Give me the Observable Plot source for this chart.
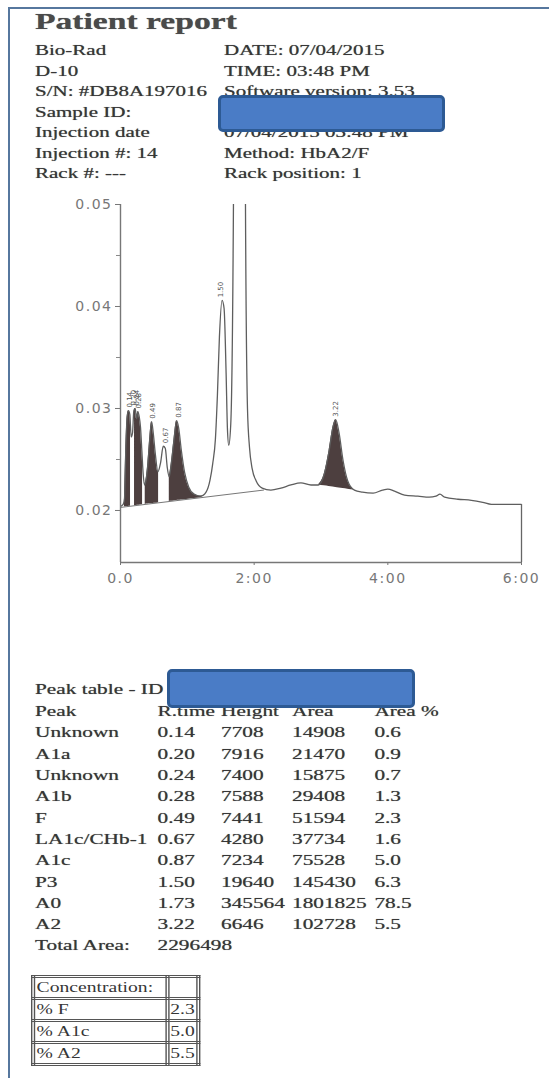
<!DOCTYPE html>
<html><head><meta charset="utf-8">
<script src="https://cdn.jsdelivr.net/npm/d3@7"></script>
<script src="https://cdn.jsdelivr.net/npm/@observablehq/plot@0.6"></script>
<style>
html,body{margin:0;padding:0;background:#fff;}
body{width:549px;height:1078px;position:relative;overflow:hidden;font-family:"Liberation Serif","Times New Roman",serif;color:#363636;}
#frame{position:absolute;left:8px;top:7px;width:700px;height:1200px;border-left:2px solid #56779e;border-top:2px solid #56779e;}
.st{position:absolute;left:35px;top:0;transform-origin:0 0;white-space:nowrap;}
.t{position:absolute;white-space:nowrap;font-size:15px;line-height:15px;text-shadow:0 0 0.6px #666;}
#title{font-size:24px;line-height:24px;font-weight:bold;color:#4a4a4a;}
.redact{position:absolute;background:#4a7cc6;border:3px solid #2d5a94;border-radius:5px;box-sizing:border-box;}
#chart{position:absolute;left:0;top:190px;}
#conc{position:absolute;left:31px;top:975px;transform-origin:0 0;transform:scaleX(1.4);border-collapse:collapse;width:121px;}
#conc td{border:3px double #555;height:19px;padding:0 1px;font-size:14px;line-height:19px;white-space:nowrap;color:#363636;}
</style></head>
<body>
<div id="frame"></div>
<div class="st" id="head" style="transform:scaleX(1.4)"></div>
<div class="redact" style="left:218px;top:95px;width:227px;height:37px"></div>
<div id="chart"></div>
<div class="st" id="ptable" style="transform:scaleX(1.42)"></div>
<div class="redact" style="left:167px;top:669px;width:248px;height:39px"></div>
<table id="conc"></table>
<script>
// ---------- header text ----------
const titleText = "Patient report";
const infoLeft = ["Bio-Rad","D-10","S/N: #DB8A197016","Sample ID:","Injection date","Injection #: 14","Rack #: ---"];
const infoRight = ["DATE: 07/04/2015","TIME: 03:48 PM","Software version: 3.53","","07/04/2015 03:48 PM","Method: HbA2/F","Rack position: 1"];

// ---------- peak table ----------
const peakNames  = ["Unknown","A1a","Unknown","A1b","F","LA1c/CHb-1","A1c","P3","A0","A2"];
const peakRT     = [0.14,0.20,0.24,0.28,0.49,0.67,0.87,1.50,1.73,3.22];
const peakHeight = [7708,7916,7400,7588,7441,4280,7234,19640,345564,6646];
const peakArea   = [14908,21470,15875,29408,51594,37734,75528,145430,1801825,102728];
const peakPct    = [0.6,0.9,0.7,1.3,2.3,1.6,5.0,6.3,78.5,5.5];
const totalArea  = 2296498;
const tableHeader = ["Peak","R.time","Height","Area","Area %"];

// ---------- concentration ----------
const concLabels = ["% F","% A1c","% A2"];
const concValues = [2.3,5.0,5.5];

// ---------- chromatogram trace (minutes, absorbance) ----------
const traceT = [0.00,0.04,0.06,0.08,0.10,0.12,0.14,0.16,0.18,0.20,0.22,0.24,0.26,0.28,0.30,0.32,0.34,0.36,0.38,0.41,0.44,0.465,0.49,0.52,0.56,0.60,0.64,0.67,0.70,0.73,0.76,0.80,0.84,0.87,0.91,0.96,1.02,1.10,1.20,1.28,1.34,1.38,1.42,1.45,1.48,1.52,1.55,1.58,1.60,1.62,1.65,1.69,1.73,1.80,1.87,1.90,1.93,1.97,2.03,2.12,2.25,2.40,2.55,2.70,2.85,2.96,3.05,3.12,3.18,3.22,3.27,3.33,3.40,3.50,3.62,3.78,3.92,4.00,4.10,4.25,4.45,4.62,4.72,4.78,4.85,5.05,5.25,5.42,5.55,6.00];
const traceV = [0.0204,0.0206,0.0212,0.0262,0.0292,0.0298,0.0294,0.0272,0.0276,0.0298,0.0300,0.0290,0.0297,0.0292,0.0281,0.0258,0.0235,0.0225,0.0229,0.0246,0.0272,0.0287,0.0276,0.0256,0.0238,0.0247,0.0263,0.0261,0.0242,0.0233,0.0246,0.0269,0.0288,0.0281,0.0259,0.0237,0.0223,0.0216,0.0214,0.0218,0.0230,0.0246,0.0270,0.0313,0.0370,0.0406,0.0398,0.0335,0.0280,0.0264,0.0285,0.0500,0.3670,0.3000,0.0500,0.0300,0.0262,0.0241,0.0229,0.0222,0.0220,0.0222,0.0225,0.0227,0.0225,0.0225,0.0236,0.0258,0.0282,0.0289,0.0276,0.0249,0.0229,0.0220,0.0218,0.0217,0.0220,0.0221,0.0219,0.0215,0.0214,0.0213,0.0214,0.0216,0.0213,0.0211,0.0210,0.0208,0.0206,0.0206];
// integration baseline under early peaks
const baseT = [0, 2.14];
const baseV = [0.0203, 0.0220];
// shaded (integrated) peak windows
const shadeStart = [0.06,0.21,0.37,0.73,2.96];
const shadeEnd   = [0.15,0.33,0.57,1.22,3.50];
const shadeBase  = ["main","main","main","main","chord"];
// axes
const yTicks = [0.02,0.03,0.04,0.05];
const yMinorTicks = [0.025,0.035,0.045];
const xTicks = [0,2,4,6];
const xTickLabels = ["0.0","2:00","4:00","6:00"];

// ---------- build header ----------
const head = document.getElementById("head");
function addText(parent, txt, left, baseline, size){
  const d = document.createElement("div");
  d.className = "t";
  d.textContent = txt;
  d.style.left = left + "px";
  d.style.top = (baseline - 0.8375*size) + "px";
  parent.appendChild(d);
  return d;
}
const tdiv = addText(head, titleText, 0, 29, 24);
tdiv.id = "title";
infoLeft.forEach((s,i)=>{
  const b = 56 + 20.5*i;
  addText(head, s, 0, b, 15);
  if (infoRight[i]) addText(head, infoRight[i], 135, b, 15);
});

// ---------- build peak table ----------
const pt = document.getElementById("ptable");
const colX = [0, 86.3, 131, 181, 239];
addText(pt, "Peak table - ID", 0, 695, 15);
tableHeader.forEach((h,j)=>addText(pt, h, colX[j], 717, 15));
peakNames.forEach((n,i)=>{
  const b = 738 + 21.3*i;
  const row = [n, peakRT[i].toFixed(2), String(peakHeight[i]), String(peakArea[i]), peakPct[i].toFixed(1)];
  row.forEach((c,j)=>addText(pt, c, colX[j], b, 15));
});
addText(pt, "Total Area:", 0, 738 + 21.3*10, 15);
addText(pt, String(totalArea), colX[1], 738 + 21.3*10, 15);

// ---------- concentration table ----------
const conc = document.getElementById("conc");
const rows = [["Concentration:",""]].concat(concLabels.map((l,i)=>[l, concValues[i].toFixed(1)]));
rows.forEach(r=>{
  const tr = document.createElement("tr");
  r.forEach((c,j)=>{const td=document.createElement("td"); td.textContent=c; if(j===0) td.style.width="93px"; tr.appendChild(td);});
  conc.appendChild(tr);
});

// ---------- chart ----------
const yMin = 0.0149, yMax = 0.05;
const trace = traceT.map((t,i)=>({t, v: traceV[i]}));
function lerp(xs, ys, t){
  for (let i=1;i<xs.length;i++){
    if (t<=xs[i]){const a=(t-xs[i-1])/(xs[i]-xs[i-1]); return ys[i-1]+a*(ys[i]-ys[i-1]);}
  }
  return ys[ys.length-1];
}
const traceAt = t => lerp(traceT, traceV, t);
const shade = [];
shadeStart.forEach((s,k)=>{
  const e = shadeEnd[k];
  const base = shadeBase[k]==="chord"
    ? (t => lerp([s,e],[traceAt(s),traceAt(e)],t))
    : (t => lerp(baseT, baseV, t));
  const ts = [s, ...traceT.filter(t=>t>s && t<e), e];
  ts.forEach(t=>shade.push({k, t, lo: base(t), hi: traceAt(t)}));
});
const labels = peakNames.map((n,i)=>({name:n, rt:peakRT[i]}))
  .filter(d=>d.name!=="A0")
  .map(d=>({rt:d.rt, label:d.rt.toFixed(2),
    top: d3.max(trace.filter(p=>Math.abs(p.t-d.rt)<=0.04), p=>p.v)}));
const xLabelMap = new Map(xTicks.map((t,i)=>[t, xTickLabels[i]]));

const chart = Plot.plot({
  width: 549, height: 410,
  marginLeft: 120, marginRight: 28, marginTop: 14, marginBottom: 38,
  x: {domain: [0, 6], label: null},
  y: {domain: [yMin, yMax], label: null},
  style: {fontFamily: "'DejaVu Sans', sans-serif", fontSize: "14px", background: "transparent"},
  marks: [
    Plot.areaY(shade, {x: "t", y1: "lo", y2: "hi", z: "k", fill: "#4d3f3f", curve: "monotone-x"}),
    Plot.line(baseT.map((t,i)=>({t, v: baseV[i]})), {x: "t", y: "v", stroke: "#777", strokeWidth: 1}),
    Plot.line(trace, {x: "t", y: "v", stroke: "#5e5e5e", strokeWidth: 1.3, curve: "monotone-x", clip: true}),
    Plot.ruleX([6], {y1: yMin, y2: traceV[traceV.length-1], stroke: "#666", strokeWidth: 1.3}),
    Plot.ruleX([0], {y1: yMin, y2: yMax, stroke: "#777", strokeWidth: 1.4}),
    Plot.ruleY([yMin], {x1: 0, x2: 6, stroke: "#777", strokeWidth: 1.4}),
    Plot.axisY({ticks: yTicks, tickFormat: d => d.toFixed(2), tickSize: 5, tickPadding: 3, color: "#777", label: null}),
    Plot.axisY({ticks: yMinorTicks, tickFormat: () => "", tickSize: 4, color: "#888", label: null}),
    Plot.axisX({ticks: xTicks, tickFormat: d => xLabelMap.get(d), tickSize: 3, tickPadding: 8, color: "#777", label: null}),
    Plot.text(labels, {x: "rt", y: "top", text: "label", rotate: -90, textAnchor: "start", dy: -3, fontSize: 7, fill: "#555"})
  ]
});
chart.querySelectorAll('g[aria-label="y-axis tick label"] text, g[aria-label="x-axis tick label"] text')
  .forEach(t => t.style.letterSpacing = "1.5px");
document.getElementById("chart").appendChild(chart);
</script>
</body></html>
